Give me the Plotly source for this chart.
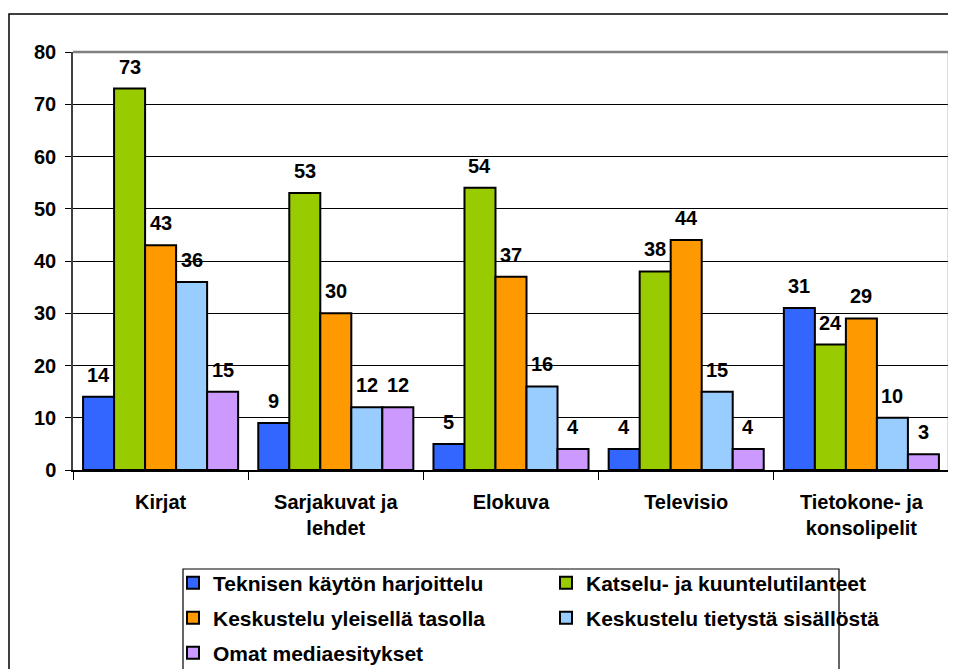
import plotly.graph_objects as go

categories = ["Kirjat", "Sarjakuvat ja<br>lehdet", "Elokuva", "Televisio", "Tietokone- ja<br>konsolipelit"]
series_names = ["Teknisen käytön harjoittelu", "Katselu- ja kuuntelutilanteet",
                "Keskustelu yleisellä tasolla", "Keskustelu tietystä sisällöstä",
                "Omat mediaesitykset"]
tekninen = [14, 9, 5, 4, 31]
katselu = [73, 53, 54, 38, 24]
yleinen = [43, 30, 37, 44, 29]
tietty = [36, 12, 16, 15, 10]
omat = [15, 12, 4, 4, 3]
colors = ["#3366FF", "#99CC00", "#FF9900", "#99CCFF", "#CC99FF"]

font = "Arial, Liberation Sans, sans-serif"
all_series = [tekninen, katselu, yleinen, tietty, omat]
# which legend row each series goes in (two entries per row)
legend_rows = ["legend", "legend", "legend2", "legend2", "legend3"]

# the page body has an 8px margin, so the figure is 8px smaller than the window
W, H = 948, 661
ml, mr, mt, mb = 65, 7, 44, 199
plot_w = W - ml - mr
plot_h = H - mt - mb
bargap = 0.115
bar_px = plot_w / len(categories) * (1 - bargap) / len(all_series)


def px_x(x):
    return (x - ml) / plot_w


def px_y(y):
    return 1 - (y - mt) / plot_h


fig = go.Figure()
for name, vals, col, lg in zip(series_names, all_series, colors, legend_rows):
    fig.add_trace(go.Bar(
        x=categories, y=vals, name=name, legend=lg,
        marker=dict(color=col, line=dict(color="black", width=2)),
    ))

# value labels above the bars
for i, vals in enumerate(all_series):
    for cat, v in zip(categories, vals):
        fig.add_annotation(
            x=cat, y=v, text=str(v), showarrow=False,
            xshift=(i - 2) * bar_px, yshift=9, yanchor="bottom",
            font=dict(family=font, size=20, color="black", weight="bold"),
        )

legend_style = dict(
    orientation="h", xanchor="left", yanchor="middle",
    entrywidth=328, entrywidthmode="pixels", borderwidth=0,
    bgcolor="rgba(0,0,0,0)",
    font=dict(family=font, size=21, color="black", weight="bold"),
    traceorder="normal",
)

fig.update_layout(
    barmode="group", bargap=bargap, bargroupgap=0,
    width=W, height=H,
    margin=dict(l=ml, r=mr, t=mt, b=mb, autoexpand=False),
    paper_bgcolor="white", plot_bgcolor="white",
    font=dict(family=font, size=20, color="black"),
    showlegend=True,
    legend=dict(x=px_x(165), y=px_y(575), **legend_style),
    legend2=dict(x=px_x(165), y=px_y(610), **legend_style),
    legend3=dict(x=px_x(165), y=px_y(645), **legend_style),
)

fig.update_yaxes(
    range=[0, 80], dtick=10, showgrid=True, gridcolor="black", gridwidth=1,
    showline=True, linecolor="#404040", linewidth=1.5,
    ticks="outside", ticklen=6, tickcolor="black", ticklabelstandoff=5,
    tickfont=dict(family=font, size=20, color="black", weight="bold"),
    zeroline=False, fixedrange=True,
)
fig.update_xaxes(
    showline=True, linecolor="black", linewidth=2,
    ticks="outside", tickson="boundaries", ticklen=8, tickcolor="black",
    ticklabelstandoff=13,
    tickfont=dict(family=font, size=20, color="black", weight="bold"),
)

# plot-area border (top and right), legend box and outer chart frame
fig.add_shape(type="line", xref="paper", yref="paper", x0=0, x1=1, y0=1, y1=1,
              line=dict(color="#808080", width=2.5))
fig.add_shape(type="line", xref="paper", yref="paper", x0=1, x1=1, y0=0, y1=1,
              line=dict(color="#808080", width=2.5))
fig.add_shape(type="rect", xref="paper", yref="paper",
              x0=px_x(175), x1=px_x(831), y0=px_y(720), y1=px_y(561),
              line=dict(color="black", width=1.2), layer="below")
fig.add_shape(type="rect", xref="paper", yref="paper",
              x0=px_x(1), x1=1.2, y0=-1, y1=px_y(6),
              line=dict(color="black", width=1.5), layer="below")

fig.write_html("out.html")
